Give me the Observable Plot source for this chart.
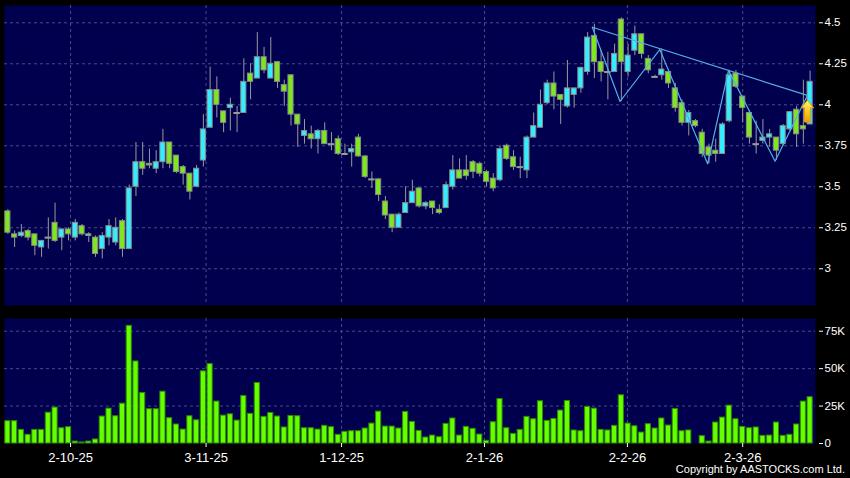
<!DOCTYPE html>
<html><head><meta charset="utf-8">
<script src="https://cdn.jsdelivr.net/npm/d3@7"></script>
<script src="https://cdn.jsdelivr.net/npm/@observablehq/plot@0.6"></script>
<style>
html,body{margin:0;padding:0;background:#000;}
#chart{position:relative;width:850px;height:478px;overflow:hidden;background:#000;font-family:"Liberation Sans",Arial,sans-serif;}
#price{position:absolute;left:0;top:0;}
#volume{position:absolute;left:0;top:310px;}
#copyright{position:absolute;right:5px;top:464px;color:#fff;font-size:11px;line-height:11px;white-space:nowrap;}
</style></head><body>
<div id="chart"><div id="price"></div><div id="volume"></div><div id="copyright">Copyright by AASTOCKS.com Ltd.</div></div>
<script>
// ---- data (one entry per trading session, in order) ----
const openP = [3.35,3.21,3.20,3.23,3.21,3.13,3.19,3.28,3.19,3.24,
3.19,3.26,3.20,3.19,3.12,3.19,3.16,3.29,3.12,3.50,
3.65,3.64,3.61,3.65,3.77,3.69,3.62,3.58,3.50,3.66,
3.86,4.09,3.96,3.98,3.95,3.95,4.19,4.16,4.29,4.16,
4.26,4.12,4.18,3.94,3.81,3.82,3.79,3.84,3.76,3.79,
3.70,3.71,3.80,3.685,3.545,3.545,3.41,3.33,3.25,3.34,
3.40,3.49,3.38,3.41,3.36,3.37,3.50,3.60,3.60,3.65,
3.64,3.59,3.55,3.54,3.75,3.68,3.62,3.60,3.80,3.86,
4.01,4.13,4.06,3.99,4.06,4.10,4.20,4.42,4.26,4.20,
4.20,4.52,4.20,4.33,4.43,4.28,4.17,4.18,4.20,4.10,
4.01,3.89,3.90,3.83,3.74,3.72,3.70,3.90,4.19,4.05,
3.95,3.76,3.78,3.80,3.80,3.76,3.85,3.97,3.87,3.88];
const highP = [3.36,3.23,3.27,3.24,3.21,3.17,3.31,3.40,3.24,3.25,
3.30,3.27,3.22,3.20,3.22,3.30,3.31,3.30,3.51,3.77,
3.77,3.73,3.72,3.85,3.77,3.69,3.63,3.58,3.63,3.94,
4.23,4.17,3.96,4.04,3.99,4.28,4.25,4.44,4.35,4.41,
4.265,4.15,4.18,3.94,3.91,3.87,3.85,3.89,3.83,3.81,
3.76,3.76,3.82,3.69,3.59,3.55,3.44,3.33,3.34,3.50,
3.54,3.49,3.41,3.41,3.39,3.53,3.69,3.67,3.69,3.66,
3.65,3.60,3.58,3.75,3.76,3.72,3.68,3.81,3.95,4.09,
4.15,4.20,4.06,4.27,4.10,4.23,4.44,4.49,4.33,4.32,
4.37,4.53,4.37,4.48,4.43,4.30,4.18,4.34,4.21,4.13,
4.03,3.965,3.91,3.85,3.76,3.79,3.89,4.21,4.21,4.05,
3.96,3.90,3.91,3.85,3.80,3.88,3.96,3.99,4.15,4.205];
const lowP = [3.21,3.13,3.19,3.17,3.08,3.07,3.12,3.16,3.11,3.17,
3.17,3.20,3.16,3.07,3.06,3.14,3.14,3.07,3.12,3.44,
3.57,3.61,3.58,3.61,3.61,3.58,3.51,3.42,3.50,3.62,
3.86,3.92,3.83,3.84,3.83,3.95,4.03,4.16,4.19,4.16,
4.10,3.99,3.87,3.74,3.76,3.73,3.70,3.76,3.72,3.69,
3.69,3.62,3.68,3.55,3.49,3.41,3.30,3.22,3.25,3.34,
3.40,3.37,3.36,3.33,3.33,3.37,3.48,3.55,3.54,3.55,
3.56,3.50,3.47,3.53,3.66,3.60,3.55,3.55,3.80,3.86,
4.00,3.97,3.88,3.98,3.98,4.07,4.18,4.16,4.14,4.03,
4.20,4.02,4.17,4.30,4.28,4.19,4.17,4.15,4.10,3.955,
3.87,3.81,3.86,3.68,3.64,3.65,3.70,3.89,4.10,3.89,
3.76,3.70,3.76,3.74,3.66,3.75,3.84,3.74,3.76,3.88];
const closeP = [3.22,3.19,3.22,3.19,3.14,3.17,3.19,3.17,3.24,3.21,
3.28,3.21,3.21,3.09,3.20,3.26,3.25,3.12,3.49,3.65,
3.61,3.63,3.65,3.77,3.64,3.59,3.58,3.47,3.61,3.85,
4.09,4.00,3.89,4.00,3.95,4.14,4.14,4.29,4.21,4.25,
4.14,4.08,3.94,3.88,3.84,3.79,3.84,3.76,3.76,3.70,
3.70,3.73,3.685,3.56,3.545,3.45,3.325,3.25,3.33,3.40,
3.47,3.38,3.40,3.37,3.34,3.51,3.60,3.55,3.565,3.59,
3.58,3.53,3.49,3.73,3.67,3.62,3.62,3.80,3.87,4.00,
4.13,4.05,4.03,4.10,4.10,4.225,4.41,4.26,4.20,4.20,
4.31,4.26,4.30,4.43,4.31,4.21,4.17,4.215,4.13,3.98,
3.89,3.95,3.87,3.70,3.69,3.70,3.88,4.18,4.11,3.98,
3.80,3.76,3.80,3.82,3.72,3.87,3.955,3.82,3.85,4.14];
const volume = [14900,14900,9100,5800,9100,9100,20600,24000,10200,10900,
1300,700,1300,2700,18000,23300,18200,26600,78600,54800,
33700,22900,22900,34600,16900,12700,9300,18200,15500,48200,
53000,28000,18600,19500,15300,31700,19800,40400,17800,20400,
18000,10700,18400,18200,10200,10200,9300,11800,10900,5800,
7800,8200,8200,10000,13300,21300,11300,11300,10000,21100,
14400,8400,4000,5300,4200,13100,16700,5300,11100,9800,
6000,1800,14200,29700,10200,6400,9100,17800,16200,28200,
15100,16400,22000,28400,8700,8200,24400,23300,9100,8700,
11800,32200,13300,11500,7300,12900,10000,16700,12000,23100,
8200,8700,0,4900,1300,14000,17300,25300,16200,11100,
10200,10700,5100,5300,14000,5100,5800,12700,28000,30900];

// date axis: labels and the session index where each sits
const dateLabels = ["2-10-25","3-11-25","1-12-25","2-1-26","2-2-26","2-3-26"];
const dateIndex = [9.3, 29.4, 49.5, 70.7, 91.9, 109.0];
// price and volume axis ticks
const priceTicks = [3, 3.25, 3.5, 3.75, 4, 4.25, 4.5];
const volTicks = [0, 25000, 50000, 75000];
// drawn pattern lines (session index, price)
const zigzagIndex = [86.7, 90.8, 96.7, 103.8, 106.9, 113.8, 118.6];
const zigzagPrice = [4.473, 4.02, 4.337, 3.64, 4.21, 3.656, 4.057];
const trendIndex = [86.7, 118.6];
const trendPrice = [4.473, 4.057];
// buy-signal arrow
const signalIndex = [118.6];
const signalPrice = [3.96];

// ---- styling ----
const NAVY = "#00004e", GRID = "#4a4a88", CYAN = "#33eeff", GREEN = "#7ee81e",
      VOLG = "#66ff00", LINE = "#55aee6", WICK = "#9a9a9a", EDGE = "#8a8a8a";
const FONT = "'Liberation Sans', Arial, sans-serif";

const candles = openP.map((o, i) => ({i, open: o, high: highP[i], low: lowP[i], close: closeP[i], vol: volume[i]}));
const zigzag = zigzagIndex.map((v, k) => ({i: v, p: zigzagPrice[k]}));
const trend = trendIndex.map((v, k) => ({i: v, p: trendPrice[k]}));
const signal = signalIndex.map((v, k) => ({i: v, p: signalPrice[k]}));
const labelOf = new Map(dateIndex.map((v, k) => [v, dateLabels[k]]));
const HW = 0.38;
const xDomain = [-0.5, 119.8];

const arrowSymbol = {
  draw(ctx) {
    ctx.moveTo(0, -11);
    ctx.lineTo(6.3, -3.5);
    ctx.lineTo(2.9, -3.5);
    ctx.lineTo(2.9, 10.7);
    ctx.lineTo(-2.9, 10.7);
    ctx.lineTo(-2.9, -3.5);
    ctx.lineTo(-6.3, -3.5);
    ctx.closePath();
  }
};

const pricePlot = Plot.plot({
  width: 850, height: 310,
  marginLeft: 4, marginRight: 35, marginTop: 5, marginBottom: 5,
  style: {background: "transparent", color: "#fff", fontFamily: FONT, fontSize: "11.5px"},
  x: {domain: xDomain, axis: null},
  y: {domain: [2.776, 4.6055], axis: null},
  marks: [
    Plot.frame({fill: NAVY, stroke: null}),
    Plot.gridY(priceTicks, {stroke: GRID, strokeOpacity: 1, strokeDasharray: "3,3"}),
    Plot.gridX(dateIndex, {stroke: GRID, strokeOpacity: 1, strokeDasharray: "3,3"}),
    Plot.axisY(priceTicks, {anchor: "right", tickSize: 4, tickPadding: 2, dx: 3, label: null,
      tickFormat: d => String(d)}),
    Plot.ruleX(candles, {x: "i", y1: "low", y2: "high", stroke: WICK}),
    Plot.rect(candles.filter(d => d.open !== d.close), {
      x1: d => d.i - HW, x2: d => d.i + HW, y1: "open", y2: "close",
      fill: d => d.close > d.open ? CYAN : GREEN, stroke: EDGE, strokeWidth: 1}),
    Plot.ruleY(candles.filter(d => d.open === d.close), {
      x1: d => d.i - HW - 0.1, x2: d => d.i + HW + 0.1, y: "close", stroke: WICK, strokeWidth: 2}),
    Plot.line(trend, {x: "i", y: "p", stroke: LINE, strokeWidth: 1.2}),
    Plot.line(zigzag, {x: "i", y: "p", stroke: LINE, strokeWidth: 1.2}),
    Plot.dot(signal, {x: "i", y: "p", symbol: arrowSymbol, fill: "#ffc820", stroke: "#e0a000", strokeWidth: 1, className: "sig"})
  ]
});
document.getElementById("price").appendChild(pricePlot);

// gold gradient for the arrow
(function () {
  const svg = d3.select(pricePlot.tagName.toLowerCase() === "svg" ? pricePlot : pricePlot.querySelector("svg"));
  const g = svg.append("defs").append("linearGradient").attr("id", "gold").attr("x1", 0).attr("y1", 0).attr("x2", 0).attr("y2", 1);
  g.append("stop").attr("offset", "0%").attr("stop-color", "#fff27a");
  g.append("stop").attr("offset", "45%").attr("stop-color", "#ffd02a");
  g.append("stop").attr("offset", "100%").attr("stop-color", "#f09a00");
  svg.selectAll(".sig path").attr("fill", "url(#gold)");
})();

const volPlot = Plot.plot({
  width: 850, height: 168,
  marginLeft: 4, marginRight: 35, marginTop: 8, marginBottom: 35,
  style: {background: "transparent", color: "#fff", fontFamily: FONT, fontSize: "11.5px"},
  x: {domain: xDomain, axis: null},
  y: {domain: [0, 83500], axis: null},
  marks: [
    Plot.frame({fill: NAVY, stroke: null}),
    Plot.gridY(volTicks.filter(v => v > 0), {stroke: GRID, strokeOpacity: 1, strokeDasharray: "3,3"}),
    Plot.gridX(dateIndex, {stroke: GRID, strokeOpacity: 1, strokeDasharray: "3,3"}),
    Plot.rectY(candles, {x1: d => d.i - HW, x2: d => d.i + HW, y: "vol", fill: VOLG, stroke: "#2e8c00", strokeWidth: 1}),
    Plot.axisY(volTicks, {anchor: "right", tickSize: 4, tickPadding: 2, dx: 3, label: null,
      tickFormat: d => d === 0 ? "0" : (d / 1000) + "K"}),
    Plot.axisX(dateIndex, {anchor: "bottom", tickSize: 4, tickPadding: 5, label: null, fontSize: 13,
      tickFormat: d => labelOf.get(d)})
  ]
});
document.getElementById("volume").appendChild(volPlot);
</script>
</body></html>
